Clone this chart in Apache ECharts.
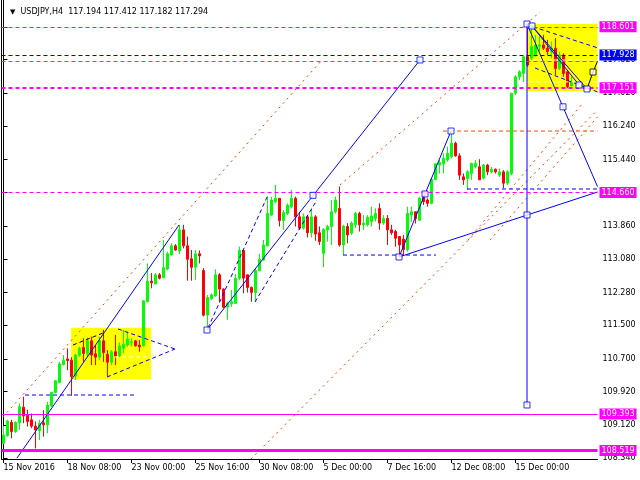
<!DOCTYPE html>
<html><head><meta charset="utf-8">
<script src="https://cdn.jsdelivr.net/npm/echarts@6/dist/echarts.min.js"></script>
<style>html,body{margin:0;padding:0;background:#fff}#c{width:640px;height:480px}</style>
</head><body><div id="c"></div>
<script>
// ---------- data ----------
const xTickLabels = ['15 Nov 2016','18 Nov 08:00','23 Nov 00:00','25 Nov 16:00','30 Nov 08:00','5 Dec 00:00','7 Dec 16:00','12 Dec 08:00','15 Dec 00:00'];
const yTickValues = [108.34,109.12,109.92,110.70,111.50,112.28,113.08,113.86,114.66,115.44,116.24,117.02,117.82,118.60];
const open = [
108.69,108.87,109.19,108.97,109.18,109.55,109.36,109.25,109.10,108.99,
109.18,109.13,109.58,109.90,110.14,110.56,110.70,110.67,110.29,110.79,
110.97,110.83,111.13,110.82,110.74,111.13,110.81,110.62,110.87,110.77,
110.95,111.03,111.09,111.13,111.03,111.01,112.06,112.55,112.48,112.70,
112.63,112.84,113.17,113.39,113.27,113.77,113.39,113.08,112.88,113.20,
112.80,111.74,112.13,112.20,112.70,112.36,111.93,112.01,112.02,112.62,
113.28,112.70,112.40,112.28,112.80,113.05,113.39,114.12,114.44,114.52,
113.99,114.16,114.32,114.52,114.08,113.81,114.08,113.70,114.08,113.70,
113.21,113.77,113.85,114.20,114.28,113.41,113.85,113.69,113.89,114.16,
113.89,113.89,113.97,114.04,114.28,113.93,114.04,113.77,113.73,113.61,
113.55,113.30,114.12,114.20,114.00,114.56,114.48,114.40,114.97,115.31,
115.34,115.43,115.51,115.83,115.53,115.03,114.99,115.11,115.27,115.27,
115.00,115.31,115.15,115.21,115.07,115.15,114.88,115.11,117.02,117.41,
117.49,117.89,117.85,117.93,118.13,118.17,118.09,118.01,118.09,117.61,
117.93,117.53,117.194];
const high = [
109.10,109.25,109.25,109.21,109.64,109.80,109.49,109.40,109.21,109.25,
109.48,109.68,109.92,110.20,110.63,110.79,110.95,110.74,110.82,110.99,
111.19,111.21,111.23,111.03,111.23,111.39,110.91,110.91,111.27,111.09,
111.39,111.35,111.19,111.15,111.15,112.10,112.97,112.74,112.74,112.74,
113.53,113.25,113.45,113.43,113.89,113.89,113.61,113.29,113.29,113.28,
112.86,112.22,112.26,112.83,112.74,112.38,112.06,112.34,112.72,113.37,
113.29,112.70,112.42,112.86,113.20,113.53,114.56,114.56,114.84,114.52,
114.24,114.40,114.72,114.56,114.20,114.16,114.12,114.28,114.12,113.85,
113.81,113.89,114.48,114.56,114.80,113.89,113.93,113.97,114.20,114.20,
114.12,114.12,114.32,114.28,114.40,114.12,114.12,113.89,113.77,113.61,
113.65,114.32,114.32,114.20,114.56,114.60,114.52,115.00,115.35,115.43,
115.59,115.75,116.12,115.87,115.59,115.11,115.19,115.37,115.43,115.45,
115.34,115.34,115.27,115.23,115.23,115.19,115.19,117.02,117.45,117.57,
117.89,118.66,118.64,118.41,118.37,118.41,118.29,118.25,118.33,118.01,
117.97,117.53,117.412];
const low = [
108.67,108.85,108.81,108.94,109.01,109.17,109.09,109.05,108.57,108.77,
108.85,108.93,109.56,109.88,110.12,110.55,110.43,109.82,110.20,110.75,
110.63,110.75,110.55,110.55,110.67,110.63,110.28,110.55,110.55,110.74,
110.83,110.99,110.99,110.99,110.87,110.99,112.06,112.38,112.48,112.59,
112.62,112.81,113.17,113.27,113.19,113.33,112.56,112.56,112.58,112.97,
111.71,111.43,112.10,112.18,112.06,111.90,111.63,111.94,112.01,112.58,
112.26,112.28,112.06,112.06,112.78,113.04,113.37,114.10,114.40,113.85,
113.77,114.12,114.28,113.85,113.77,113.78,113.59,113.59,113.51,113.41,
112.88,113.49,113.41,114.16,113.37,113.17,113.45,113.65,113.81,113.73,
113.77,113.85,113.85,113.97,113.77,113.89,113.41,113.65,113.37,113.12,
113.17,113.25,113.96,113.92,113.99,114.36,114.32,114.38,114.96,115.11,
115.11,115.39,115.47,115.51,114.96,114.84,114.72,114.96,115.23,114.96,
114.97,115.07,115.11,115.11,115.03,114.76,114.84,115.07,116.98,117.33,
117.29,117.65,117.81,117.89,118.01,118.05,117.93,117.85,117.45,117.57,
117.41,117.14,117.182];
const close = [
108.89,109.22,108.97,109.19,109.56,109.34,109.21,109.10,109.01,109.17,
109.13,109.60,109.90,110.18,110.58,110.67,110.66,110.28,110.79,110.95,
110.83,111.13,110.79,110.74,111.13,110.85,110.62,110.87,110.77,111.01,
111.05,111.17,111.11,111.01,110.99,112.08,112.55,112.51,112.70,112.62,
112.87,113.20,113.39,113.29,113.77,113.39,113.07,112.88,113.20,113.15,
111.74,112.16,112.22,112.70,112.36,111.93,112.02,112.06,112.62,113.28,
112.62,112.40,112.28,112.80,113.07,113.41,114.16,114.48,114.52,113.99,
114.18,114.36,114.52,114.08,113.81,114.08,113.70,114.08,113.67,113.49,
113.78,113.85,114.20,114.48,113.41,113.86,113.65,113.93,114.16,113.89,
113.93,114.07,114.10,114.16,113.93,114.04,113.77,113.70,113.57,113.41,
113.30,114.16,114.20,114.04,114.52,114.44,114.40,114.97,115.34,115.37,
115.47,115.59,115.83,115.53,115.07,114.96,115.15,115.35,115.35,114.96,
115.31,115.15,115.21,115.15,115.15,114.88,115.15,117.02,117.41,117.53,
117.89,117.69,118.13,118.17,118.17,118.09,118.01,118.09,117.61,117.93,
117.49,117.18,117.294];

// horizontal price levels
const magentaDashLevels = [118.601, 114.660];
const magentaBoldDashLevel = 117.151;
const magentaSolidLevel = 109.393;
const magentaBoldSolidLevel = 108.519;
const blueDashLevel = 117.928;
const orangeDashLevel = 117.787;
const bidPrice = 117.294;

// drawings in [barIndex, price]
const rectangles = [[[16.9,111.44],[36.9,110.21]], [[130.9,118.667],[149,117.07]]];
const blueSolid = [
  [[3.375,108.34],[43.875,113.885]],
  [[50.875,111.387],[104.125,117.811]],
  [[98.875,113.124],[111.875,116.121]],
  [[98.875,113.124],[148.5,114.67]],
  [[130.875,118.667],[130.875,109.603]],
  [[130.875,118.667],[148.5,114.80]],
  [[132.125,118.62],[143.875,117.216]],
  [[132.125,118.62],[145.875,117.121]]
];
const blueDashed = [
  [[5.375,109.84],[33.375,109.84]],
  [[84.875,113.17],[108.125,113.17]],
  [[115.875,114.742],[148.5,114.742]],
  [[51.125,111.435],[66.125,114.599]],
  [[62.875,112.054],[78.375,114.48]],
  [[28.625,111.411],[42.875,110.935]],
  [[25.875,110.269],[42.875,110.935]],
  [[132.375,118.60],[148.5,118.10]],
  [[132.875,117.62],[148.5,117.05]]
];
const blackDashed = [[[17.375,111.03],[24.875,111.316]]];
const whiteDashed = [[[27.875,110.745],[36.625,110.745]], [[132.375,117.81],[148.5,117.81]], [[131.5,117.29],[148.5,117.29]]];
const blackSolid = [[[145.875,117.121],[147.375,117.525],[148.5,117.78]]];
const orangeDotted = [
  [[-0.125,109.318],[79.625,117.811]],
  [[84.125,114.837],[134.125,118.953]],
  [[61.875,108.318],[148.5,116.621]],
  [[116.125,113.528],[144.875,116.788]],
  [[121.625,113.528],[148.5,116.455]]
];
const orangeDashed = [[[109.875,116.12],[148.5,116.12]]];
const blueSquares = [[50.875,111.387],[104.125,117.811],[77.375,114.59],[98.875,113.124],[105.375,114.623],[111.875,116.121],
  [130.875,114.123],[130.875,118.667],[130.875,109.603],[139.875,116.697],[132.125,118.62],[143.875,117.216],[145.875,117.121]];
const blackSquares = [[147.375,117.525]];

// ---------- chart ----------
const FONT = 'DejaVu Sans';
const nSlots = 149;
const cats = [];
for (let i = 0; i < nSlots; i++) cats.push(i % 16 === 0 && i / 16 < xTickLabels.length ? xTickLabels[i / 16] : String(i));
const showTick = (idx) => idx % 16 === 0 && idx / 16 < xTickLabels.length;
const ohlc = open.map((o, i) => [o, close[i], low[i], high[i]]);

const MAG = '#ff00ff', BLUE = '#0000ff', ORANGE = '#ff4500';
function lvl(v, color, width, type, bg, showLabel) {
  return {
    yAxis: v,
    lineStyle: { color: color, width: width, type: type, opacity: width ? 1 : 0 },
    label: showLabel === false ? { show: false } : {
      show: true, position: 'end', distance: 2, formatter: v.toFixed(3),
      backgroundColor: bg, color: '#fff', padding: [2, 2, 1, 2],
      fontFamily: FONT, fontSize: 8
    }
  };
}
function segSeries(list, color, width, type, z) {
  return list.map(pts => ({
    type: 'line', xAxisIndex: 1, yAxisIndex: 0, data: pts, symbol: 'none', silent: true,
    lineStyle: { color: color, width: width, type: type }, z: z, animation: false
  }));
}

const series = [];
series.push({
  type: 'line', xAxisIndex: 1, yAxisIndex: 0, data: [], silent: true, z: 1,
  markArea: { silent: true, itemStyle: { color: '#ffff00' },
    data: rectangles.map(r => [{ coord: r[0] }, { coord: r[1] }]) }
});
series.push({
  type: 'candlestick', xAxisIndex: 0, yAxisIndex: 0, data: ohlc, barWidth: 2, z: 2,
  itemStyle: { color: '#00ff00', color0: '#ff0000', borderColor: '#00ff00', borderColor0: '#ff0000', borderWidth: 1 },
  markLine: {
    silent: true, symbol: 'none', animation: false,
    data: [
      lvl(orangeDashLevel, ORANGE, 1, [4, 3], null, false),
      lvl(bidPrice, '#000', 0, 'solid', '#000'),
      lvl(magentaDashLevels[0], MAG, 1, [4, 3], MAG),
      lvl(blueDashLevel, '#0000c8', 1, [4, 3], BLUE),
      lvl(magentaBoldDashLevel, MAG, 2, [4, 3], MAG),
      lvl(magentaDashLevels[1], MAG, 1, [4, 3], MAG),
      lvl(magentaSolidLevel, MAG, 1, 'solid', MAG),
      lvl(magentaBoldSolidLevel, MAG, 3, 'solid', MAG)
    ]
  }
});
series.push(...segSeries(orangeDotted, ORANGE, 1, [2, 4], 3));
series.push(...segSeries(orangeDashed, ORANGE, 1, [4, 3], 3));
series.push(...segSeries(whiteDashed, '#ffffff', 1, [4, 3], 3));
series.push(...segSeries(blueDashed, BLUE, 1, [4, 3], 4));
series.push(...segSeries(blackDashed, '#000', 1, [4, 3], 4));
series.push(...segSeries(blueSolid, BLUE, 1, 'solid', 4));
series.push(...segSeries(blackSolid, '#000', 1, 'solid', 4));
series.push({ type: 'scatter', xAxisIndex: 1, yAxisIndex: 0, data: blueSquares, symbol: 'rect', symbolSize: 6,
  itemStyle: { color: '#fff', borderColor: BLUE, borderWidth: 1 }, z: 6, silent: true });
series.push({ type: 'scatter', xAxisIndex: 1, yAxisIndex: 0, data: blackSquares, symbol: 'rect', symbolSize: 6,
  itemStyle: { color: '#fff', borderColor: '#000', borderWidth: 1 }, z: 6, silent: true });

const chart = echarts.init(document.getElementById('c'), null, { renderer: 'canvas' });
chart.setOption({
  animation: false,
  backgroundColor: '#fff',
  title: { text: '{t|\u25BC}  USDJPY,H4  117.194 117.412 117.182 117.294', left: 5, top: 3,
    textStyle: { fontFamily: FONT, fontSize: 8, fontWeight: 'normal', color: '#000',
      rich: { t: { fontSize: 7, fontFamily: FONT, color: '#000' } } } },
  grid: { left: 1.5, right: 42.5, top: 0, bottom: 21, containLabel: false },
  xAxis: [
    { type: 'category', data: cats, boundaryGap: true,
      axisLine: { lineStyle: { color: '#000', width: 1 } },
      axisTick: { show: true, alignWithLabel: true, interval: showTick, length: 4, lineStyle: { color: '#000' } },
      axisLabel: { interval: showTick, align: 'left', margin: 5, fontFamily: FONT, fontSize: 8, color: '#000' },
      splitLine: { show: false } },
    { type: 'value', min: -0.5, max: 148.5, show: false }
  ],
  yAxis: [
    { type: 'value', position: 'right', min: 108.318, max: 119.238, scale: true,
      axisLine: { show: true, lineStyle: { color: '#000', width: 1 } },
      axisTick: { show: true, length: 4, customValues: yTickValues, lineStyle: { color: '#000' } },
      axisLabel: { show: true, customValues: yTickValues, margin: 5, fontFamily: FONT, fontSize: 8, color: '#000',
        formatter: v => v.toFixed(3) },
      splitLine: { show: false } },
    { type: 'value', position: 'left', min: 108.318, max: 119.238, offset: 0,
      axisLine: { show: true, lineStyle: { color: '#000', width: 1 } },
      axisTick: { show: false }, axisLabel: { show: false }, splitLine: { show: false } }
  ],
  series: series
});
</script>
</body></html>
